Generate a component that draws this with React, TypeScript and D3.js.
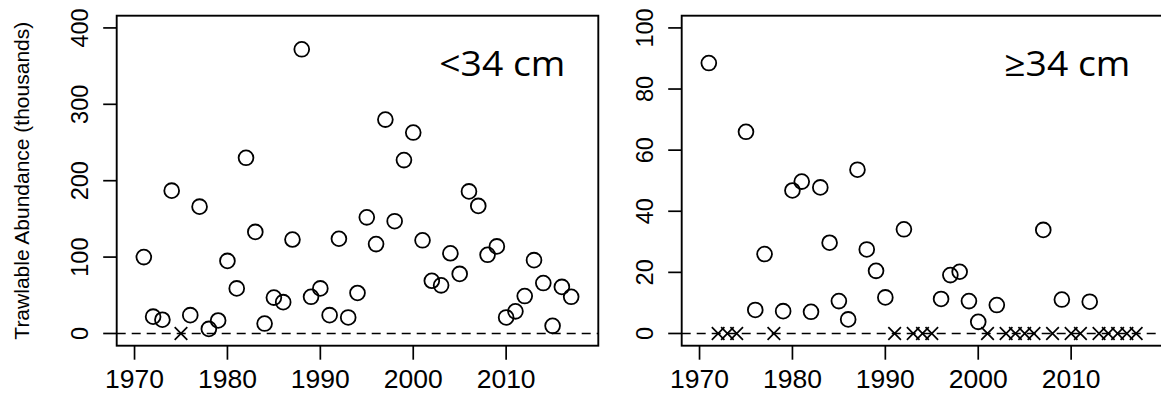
import React from 'react';
import * as d3 from 'd3';

const YEARS = [
  1971, 1972, 1973, 1974, 1975, 1976, 1977, 1978, 1979, 1980,
  1981, 1982, 1983, 1984, 1985, 1986, 1987, 1988, 1989, 1990,
  1991, 1992, 1993, 1994, 1995, 1996, 1997, 1998, 1999, 2000,
  2001, 2002, 2003, 2004, 2005, 2006, 2007, 2008, 2009, 2010,
  2011, 2012, 2013, 2014, 2015, 2016, 2017,
];

// abundance (thousands); 0 = nothing caught, drawn as a cross
const SMALL = [
  100, 22, 18, 187, 0, 24, 166, 6, 17, 95,
  59, 230, 133, 13, 47, 41, 123, 372, 48, 59,
  24, 124, 21, 53, 152, 117, 280, 147, 227, 263,
  122, 69, 63, 105, 78, 186, 167, 103, 114, 21,
  29, 49, 96, 66, 10, 61, 48,
];

const LARGE = [
  88.5, 0, 0, 0, 66, 7.7, 26, 0, 7.3, 46.8,
  49.7, 7.1, 47.8, 29.7, 10.6, 4.6, 53.6, 27.5, 20.5, 11.8,
  0, 34.1, 0, 0, 0, 11.3, 19.1, 20.2, 10.6, 3.8,
  0, 9.3, 0, 0, 0, 0, 33.9, 0, 11.1, 0,
  0, 10.4, 0, 0, 0, 0, 0,
];

const X_TICKS = [1970, 1980, 1990, 2000, 2010];
const SMALL_TICKS = [0, 100, 200, 300, 400];
const LARGE_TICKS = [0, 20, 40, 60, 80, 100];

const TOP = 15.7;
const BOTTOM = 345.7;
const PANEL_W = 481.6;
const AXIS_FONT = '"Liberation Sans", Arial, sans-serif';

interface PanelProps {
  left: number;
  values: number[];
  yMax: number;
  yTicks: number[];
  label: string;
}

const Panel: React.FC<PanelProps> = ({ left, values, yMax, yTicks, label }) => {
  const right = left + PANEL_W;
  // R-style 4% padding around xlim = c(1970, 2018) and ylim = c(0, yMax)
  const x = d3.scaleLinear().domain([1968.08, 2019.92]).range([left, right]);
  const pad = yMax * 0.04;
  const y = d3.scaleLinear().domain([-pad, yMax + pad]).range([BOTTOM, TOP]);
  const s = 6.3;

  return (
    <g>
      <line
        x1={left}
        x2={right}
        y1={y(0)}
        y2={y(0)}
        stroke="#000"
        strokeWidth={1.6}
        strokeDasharray="9,6"
      />
      {YEARS.map((yr, i) =>
        values[i] === 0 ? (
          <path
            key={yr}
            d={`M${x(yr) - s},${y(0) - s}L${x(yr) + s},${y(0) + s}M${x(yr) - s},${y(0) + s}L${x(yr) + s},${y(0) - s}`}
            stroke="#000"
            strokeWidth={1.7}
            fill="none"
          />
        ) : (
          <circle
            key={yr}
            cx={x(yr)}
            cy={y(values[i])}
            r={7.4}
            fill="none"
            stroke="#000"
            strokeWidth={1.8}
          />
        )
      )}
      <rect
        x={left}
        y={TOP}
        width={PANEL_W}
        height={BOTTOM - TOP}
        fill="none"
        stroke="#000"
        strokeWidth={1.9}
      />
      {X_TICKS.map((t) => (
        <g key={t}>
          <line x1={x(t)} x2={x(t)} y1={BOTTOM} y2={BOTTOM + 14} stroke="#000" strokeWidth={1.7} />
          <text
            x={x(t)}
            y={388}
            textAnchor="middle"
            fontFamily={AXIS_FONT}
            fontSize={26.5}
            fill="#000"
          >
            {t}
          </text>
        </g>
      ))}
      {yTicks.map((t) => (
        <g key={t}>
          <line x1={left - 13.5} x2={left} y1={y(t)} y2={y(t)} stroke="#000" strokeWidth={1.7} />
          <text
            transform={`translate(${left - 28.5},${y(t)}) rotate(-90)`}
            textAnchor="middle"
            fontFamily={AXIS_FONT}
            fontSize={23.5}
            fill="#000"
          >
            {t}
          </text>
        </g>
      ))}
      <text
        x={right - 33}
        y={75.5}
        textAnchor="end"
        fontFamily='"Open Sans", Lato, sans-serif'
        fontSize={35}
        textLength={126}
        lengthAdjust="spacingAndGlyphs"
        fill="#000"
      >
        {label}
      </text>
    </g>
  );
};

export default function App() {
  return (
    <svg
      width={1161}
      height={396}
      style={{ position: 'absolute', left: 0, top: 0, background: '#fff' }}
    >
      <rect width={1161} height={396} fill="#fff" />
      <text
        transform={`translate(28.5,${(TOP + BOTTOM) / 2}) rotate(-90)`}
        textAnchor="middle"
        fontFamily={AXIS_FONT}
        fontSize={21}
        fill="#000"
      >
        Trawlable Abundance (thousands)
      </text>
      <Panel left={116.7} values={SMALL} yMax={400} yTicks={SMALL_TICKS} label="<34 cm" />
      <Panel left={681.7} values={LARGE} yMax={100} yTicks={LARGE_TICKS} label="≥34 cm" />
    </svg>
  );
}
